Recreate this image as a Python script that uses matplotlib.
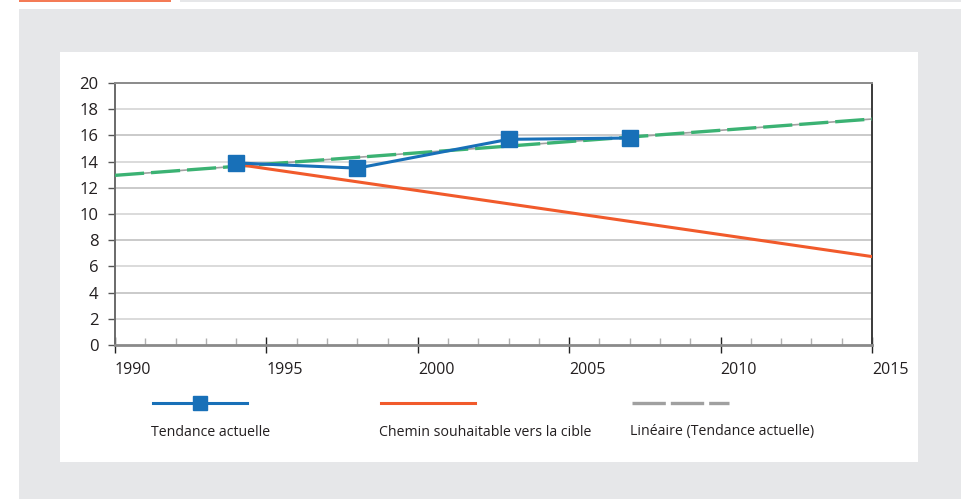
import matplotlib
matplotlib.use("Agg")
import matplotlib.pyplot as plt
from matplotlib.lines import Line2D
from matplotlib.patches import Rectangle

# --- data ---
years_actual = [1994, 1998, 2003, 2007]
values_actual = [13.9, 13.5, 15.7, 15.8]

years_target = [1994, 2015]
values_target = [13.8, 6.75]

years_trend = [1990, 2015]
values_trend = [12.95, 17.25]

legend_labels = ["Tendance actuelle", "Chemin souhaitable vers la cible",
                 "Linéaire (Tendance actuelle)"]

x_ticks = [1990, 1995, 2000, 2005, 2010, 2015]
y_ticks = list(range(0, 21, 2))

BLUE = "#1870b8"
ORANGE = "#f15a2b"
GREEN = "#3bb273"
GREY_BG = "#e6e7e9"

plt.rcParams["font.family"] = ["Open Sans", "DejaVu Sans"]
plt.rcParams["lines.scale_dashes"] = False

W, H = 962, 499
fig = plt.figure(figsize=(W / 100, H / 100), dpi=100)
fig.patch.set_facecolor("white")


def px(x0, y0, w, h):
    # pixel box (top-left origin) -> figure fraction
    return (x0 / W, 1 - (y0 + h) / H, w / W, h / H)


def add_box(x0, y0, w, h, color):
    l, b, fw, fh = px(x0, y0, w, h)
    fig.add_artist(Rectangle((l, b), fw, fh, transform=fig.transFigure,
                             color=color, lw=0, zorder=-10))


# background panels
add_box(19, 9, 943, 490, GREY_BG)
add_box(60, 52, 858, 410, "white")
# thin header strip
add_box(19, 0, 152, 2, "#f47b56")
add_box(180, 0, 782, 2, "#e6e7e9")

ax = fig.add_axes(px(115, 83, 757, 262))
ax.set_facecolor("white")

# gridlines
for i, v in enumerate(y_ticks[1:-1]):
    ax.axhline(v, color="#c6c6c6" if i % 2 else "#d8d8d8", lw=1.3, zorder=1)

# linear trend: grey base line with green dashes on top
ax.plot(years_trend, values_trend, color="#a0a0a0", lw=1.2, zorder=2)
ax.plot(years_trend, values_trend, color=GREEN, lw=2.4,
        dashes=(21, 5), zorder=3)

ax.plot(years_target, values_target, color=ORANGE, lw=2.2, zorder=4)
ax.plot(years_actual, values_actual, color=BLUE, lw=2.2, marker="s",
        markersize=11, zorder=5)

ax.set_xlim(1990, 2015)
ax.set_ylim(0, 20)
ax.set_xticks(x_ticks)
ax.set_xticks(range(1990, 2016), minor=True)
ax.set_yticks(y_ticks)

for side in ["left", "bottom", "top", "right"]:
    ax.spines[side].set_linewidth(1.4)
ax.spines["left"].set_color("#6a6a6a")
ax.spines["bottom"].set_color("#8a8a8a")
ax.spines["bottom"].set_linewidth(2)
ax.spines["top"].set_color("#8a8a8a")
ax.spines["right"].set_color("#3a3a3a")

ax.tick_params(axis="x", which="major", direction="inout", length=11,
               width=1, color="#222222", labelsize=11.5, pad=7,
               labelcolor="#231f20")
ax.tick_params(axis="x", which="minor", direction="in", length=5,
               width=1, color="#b0b0b0")
ax.tick_params(axis="y", direction="out", length=5, width=1,
               color="#555555", labelsize=12, pad=7, labelcolor="#231f20")
for lab in ax.get_xticklabels():
    lab.set_ha("left")

# legend drawn below the plot, text under each sample
items = [
    dict(x0=153, x1=247, color=BLUE, lw=2.2, marker="s", dashes=None),
    dict(x0=381, x1=475, color=ORANGE, lw=2.2, marker=None, dashes=None),
    dict(x0=632, x1=729, color="#a0a0a0", lw=2.4, marker=None, dashes=(24, 3.6)),
]
ly = 1 - 403 / H
for item, label in zip(items, legend_labels):
    line = Line2D([item["x0"] / W, item["x1"] / W], [ly, ly],
                  transform=fig.transFigure, color=item["color"], lw=item["lw"])
    if item["dashes"]:
        line.set_dashes(item["dashes"])
    fig.add_artist(line)
    if item["marker"]:
        mx = (item["x0"] + item["x1"]) / 2 / W
        fig.add_artist(Line2D([mx], [ly], transform=fig.transFigure,
                              marker="s", markersize=10, color=item["color"],
                              lw=0))
    fig.text((item["x0"] - 2) / W, 1 - 432 / H, label, fontsize=10.2,
             color="#231f20", va="center", ha="left")

fig.savefig("out.png", dpi=100)
